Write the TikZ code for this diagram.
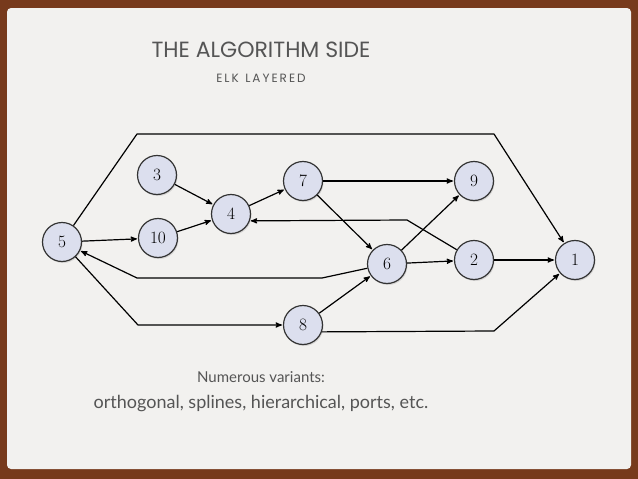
\documentclass[tikz,border=0pt]{standalone}
\usepackage{fontspec}
\usepackage{tikz}
\usetikzlibrary{arrows,automata,shadows}
\newfontfamily\titlefont{Poppins}
\newfontfamily\slidefont{Lato}
\definecolor{frame}{HTML}{773A1C}
\definecolor{paper}{HTML}{F2F1EF}
\definecolor{nodefill}{HTML}{DCDFEE}
\definecolor{ink}{HTML}{555555}

\begin{document}
\begin{tikzpicture}[x=1pt,y=-1pt,->,>=stealth',shorten >=1pt,line width=1.2pt,
                    line join=round]
\tikzstyle{every state}=[fill=nodefill,draw=black!80,text=black,minimum size=39pt,
                         inner sep=0pt,line width=1.2pt,font=\fontsize{16}{16}\selectfont,
                         drop shadow={opacity=0.25,shadow xshift=1pt,shadow yshift=-1.5pt}]
\tikzstyle{heading}=[text=ink,inner sep=0pt]
% slide
\fill[frame] (0,0) rectangle (638,479);
\fill[paper,rounded corners=4pt] (7,8) rectangle (631,469);
\useasboundingbox (0,0) rectangle (638,479);
% texts
\node[heading,font=\titlefont\fontsize{22}{22}\selectfont] (title) at (261,50) {THE ALGORITHM SIDE};
\node[heading,font=\titlefont\fontsize{12}{12}\selectfont] (sub) at (261,78) {E\,L\,K\ \ L\,A\,Y\,E\,R\,E\,D};
\node[heading,font=\slidefont\fontsize{15}{15}\selectfont] (note) at (261,377) {Numerous variants:};
\node[heading,font=\slidefont\fontsize{18}{18}\selectfont] (variants) at (261,404) {orthogonal, splines, hierarchical, ports, etc.};
% graph
\node[state] (5) at (62,242) {$5$};
\node[state] (3) at (157,175) {$3$};
\node[state] (10) at (158,238) {$10$};
\node[state] (4) at (231,214) {$4$};
\node[state] (7) at (303,181) {$7$};
\node[state] (8) at (303,325) {$8$};
\node[state] (6) at (387,264) {$6$};
\node[state] (9) at (474,181) {$9$};
\node[state] (2) at (474,260) {$2$};
\node[state] (1) at (575,260) {$1$};
\path (5) edge (10)
      (3) edge (4)
      (10) edge (4)
      (4) edge (7)
      (7) edge (9)
          edge (6)
      (8) edge (6)
      (6) edge (9)
          edge (2)
      (2) edge (1);
\draw (5) -- (137,134) -- (494,134) -- (1);
\draw (2) -- (407,220) -- (4.-20);
\draw (6) -- (322,278) -- (137,278) -- (5);
\draw (5) -- (138,325) -- (8);
\draw (8.-20) -- (494,331) -- (1);
\end{tikzpicture}
\end{document}
